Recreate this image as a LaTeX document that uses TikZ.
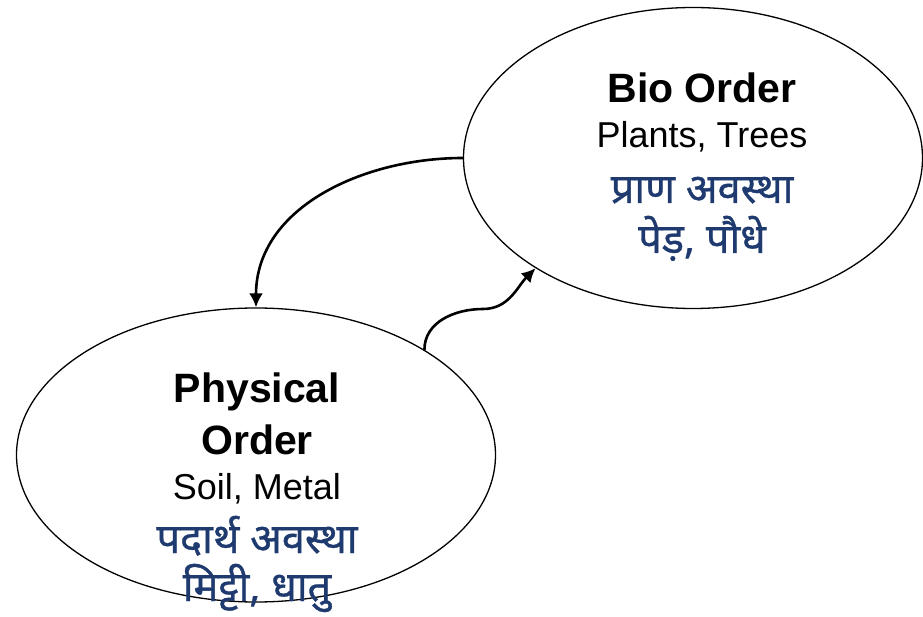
\documentclass[tikz,border=0pt]{standalone}
\usepackage{fontspec}
\setmainfont{Liberation Sans}
\newfontfamily\hindi[Script=Devanagari,FakeBold=0.8]{Noto Sans}
\usetikzlibrary{shapes.geometric,arrows.meta}
\definecolor{hindiblue}{HTML}{1F3A6E}
\tikzset{
  >={Latex[length=14pt,width=14pt]},
  order/.style = {ellipse, draw, line width=1.3pt, inner sep=0},
  flow/.style = {->, line width=2.6pt},
  title/.style = {anchor=base, inner sep=0, font=\bfseries\fontsize{41}{41}\selectfont},
  plain/.style = {anchor=base, inner sep=0, font=\fontsize{36}{36}\selectfont},
  hin/.style = {anchor=base, inner sep=0, text=hindiblue,
                font=\hindi\fontsize{41.5}{41.5}\selectfont}
}

\begin{document}
\begin{tikzpicture}[x=1pt,y=1pt]
\useasboundingbox (0,0) rectangle (923,616);
\node[order, minimum width=459pt, minimum height=301pt] (bio) at (693,458) {};
\node[order, minimum width=479pt, minimum height=294pt] (phys) at (256,161) {};

\node[title] (bioT) at (702,513) {Bio Order};
\node[plain] (bioE) at (702,468) {Plants, Trees};
\node[hin] (bioH) at (702,413) {प्राण अवस्था};
\node[hin] (bioX) at (702,363) {पेड़, पौधे};

\node[title] (physT) at (257,213) {Physical};
\node[title] (physO) at (257,161) {Order};
\node[plain] (physE) at (257,117) {Soil, Metal};
\node[hin] (physH) at (257,63) {पदार्थ अवस्था};
\node[hin] (physX) at (257,15) {मिट्टी, धातु};

\coordinate (bend) at (483,307);
\draw[flow] (bio.west) to[out=180,in=90] (phys.north);
\draw[flow] (phys.32) to[out=90,in=180] (bend) to[out=0,in=225] (bio.215);
\end{tikzpicture}
\end{document}
